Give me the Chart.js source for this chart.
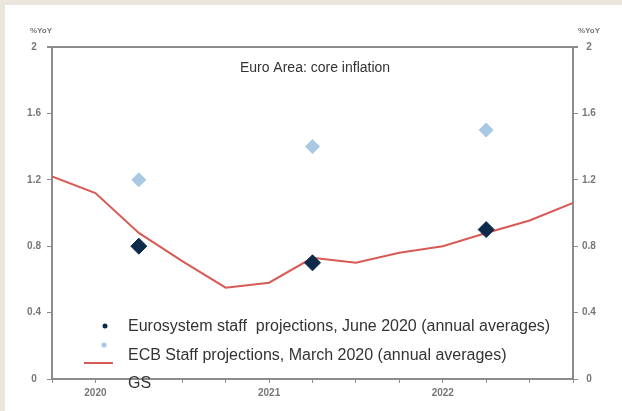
<!DOCTYPE html>
<html>
<head>
<meta charset="utf-8">
<script src="https://cdn.jsdelivr.net/npm/chart.js@4.4.1/dist/chart.umd.min.js"></script>
<style>
  html, body { margin: 0; padding: 0; }
  body { width: 622px; height: 411px; background: #ebe6dd; position: relative; overflow: hidden; }
  #panel { position: absolute; left: 5px; top: 5px; right: 0; bottom: 0; background: #fff; }
  #coreChart { position: absolute; left: 0; top: 0; }
</style>
</head>
<body>
<div id="panel"></div>
<canvas id="coreChart" width="622" height="411"></canvas>
<script>
// quarterly positions 0..12 along the x axis
const yearLabels = ["2020", "2021", "2022"];
const yearTickIdx = [1, 5, 9];

// ECB staff projections, March 2020 (quarterly path)
const marchPath = [1.22, 1.12, 0.88, 0.71, 0.55, 0.58, 0.73, 0.70, 0.76, 0.80, 0.88, 0.955, 1.06];

// annual averages, plotted at mid-year
const annualIdx = [2, 6, 10];
const juneProj = [0.8, 0.7, 0.9];
const lightProj = [1.2, 1.4, 1.5];

const axisGrey = "#8c8c8c";
const lineRed = "#d85a55";
const tickFont = { family: "Liberation Sans, Arial", size: 10, weight: "bold" };

// title, %YoY captions, top frame line and the hand-placed key
const chartExtras = {
    id: "chartExtras",
    afterDraw(chart) {
        const { ctx, chartArea: a } = chart;
        ctx.save();

        ctx.strokeStyle = axisGrey;
        ctx.lineWidth = 2;
        ctx.beginPath();
        ctx.moveTo(a.left - 5, a.top);
        ctx.lineTo(a.right + 5, a.top);
        ctx.stroke();

        ctx.fillStyle = "#777";
        ctx.font = "bold 8px Liberation Sans, Arial";
        ctx.textAlign = "center";
        ctx.textBaseline = "middle";
        ctx.fillText("%YoY", a.left - 11, a.top - 16);
        ctx.fillText("%YoY", a.right + 16, a.top - 16);

        ctx.fillStyle = "#333";
        ctx.font = "14px Liberation Sans, Arial";
        ctx.fillText("Euro Area: core inflation", 315, a.top + 21);

        // key
        ctx.fillStyle = "#0d2a4a";
        ctx.beginPath();
        ctx.arc(105, 326, 2.5, 0, Math.PI * 2);
        ctx.fill();
        ctx.fillStyle = "#a9c8e4";
        ctx.beginPath();
        ctx.arc(104, 345, 2.5, 0, Math.PI * 2);
        ctx.fill();
        ctx.strokeStyle = lineRed;
        ctx.lineWidth = 2;
        ctx.beginPath();
        ctx.moveTo(84, 363);
        ctx.lineTo(113, 363);
        ctx.stroke();

        ctx.fillStyle = "#333";
        ctx.font = "16px Liberation Sans, Arial";
        ctx.textAlign = "left";
        ctx.fillText("Eurosystem staff  projections, June 2020 (annual averages)", 128, 327);
        ctx.fillText("ECB Staff projections, March 2020 (annual averages)", 128, 356);
        ctx.fillText("GS", 128, 384);
        ctx.restore();
    }
};

const toPoints = (idx, vals) => vals.map((v, i) => ({ x: idx[i], y: v }));

new Chart(document.getElementById("coreChart"), {
    type: "scatter",
    data: {
        datasets: [
            {
                label: "Eurosystem staff projections, June 2020",
                data: toPoints(annualIdx, juneProj),
                pointStyle: "rectRot",
                pointRadius: 8,
                backgroundColor: "#0d2a4a",
                borderColor: "#0d2a4a",
                order: 1
            },
            {
                label: "Light projections",
                data: toPoints(annualIdx, lightProj),
                pointStyle: "rectRot",
                pointRadius: 7,
                backgroundColor: "#a9c8e4",
                borderColor: "#a9c8e4",
                order: 2
            },
            {
                label: "ECB Staff projections, March 2020",
                data: toPoints(marchPath.map((_, i) => i), marchPath),
                showLine: true,
                borderColor: lineRed,
                borderWidth: 2,
                pointRadius: 0,
                order: 3
            }
        ]
    },
    options: {
        responsive: false,
        animation: false,
        devicePixelRatio: 1,
        layout: { padding: { top: 47, left: 0, right: 0, bottom: 0 } },
        plugins: { legend: { display: false }, tooltip: { enabled: false } },
        scales: {
            x: {
                type: "linear",
                min: 0,
                max: 12,
                afterFit: s => { s.height = 32; },
                border: { color: axisGrey, width: 2 },
                grid: { drawOnChartArea: false, tickColor: axisGrey, tickLength: 4 },
                ticks: {
                    stepSize: 1,
                    autoSkip: false,
                    maxRotation: 0,
                    padding: 4,
                    color: "#777",
                    font: tickFont,
                    callback: v => {
                        const k = yearTickIdx.indexOf(v);
                        return k >= 0 ? yearLabels[k] : "";
                    }
                }
            },
            y: {
                position: "left",
                min: 0,
                max: 2,
                afterFit: s => { s.width = 52; },
                border: { color: axisGrey, width: 2 },
                grid: { drawOnChartArea: false, tickColor: axisGrey, tickLength: 5 },
                ticks: {
                    stepSize: 0.4,
                    crossAlign: "center",
                    padding: 6,
                    color: "#777",
                    font: tickFont,
                    callback: v => String(Number(v.toFixed(1)))
                }
            },
            y2: {
                position: "right",
                min: 0,
                max: 2,
                afterFit: s => { s.width = 49; },
                border: { color: axisGrey, width: 2 },
                grid: { drawOnChartArea: false, tickColor: axisGrey, tickLength: 5 },
                ticks: {
                    stepSize: 0.4,
                    crossAlign: "center",
                    padding: 4,
                    color: "#777",
                    font: tickFont,
                    callback: v => String(Number(v.toFixed(1)))
                }
            }
        }
    },
    plugins: [chartExtras]
});
</script>
</body>
</html>
